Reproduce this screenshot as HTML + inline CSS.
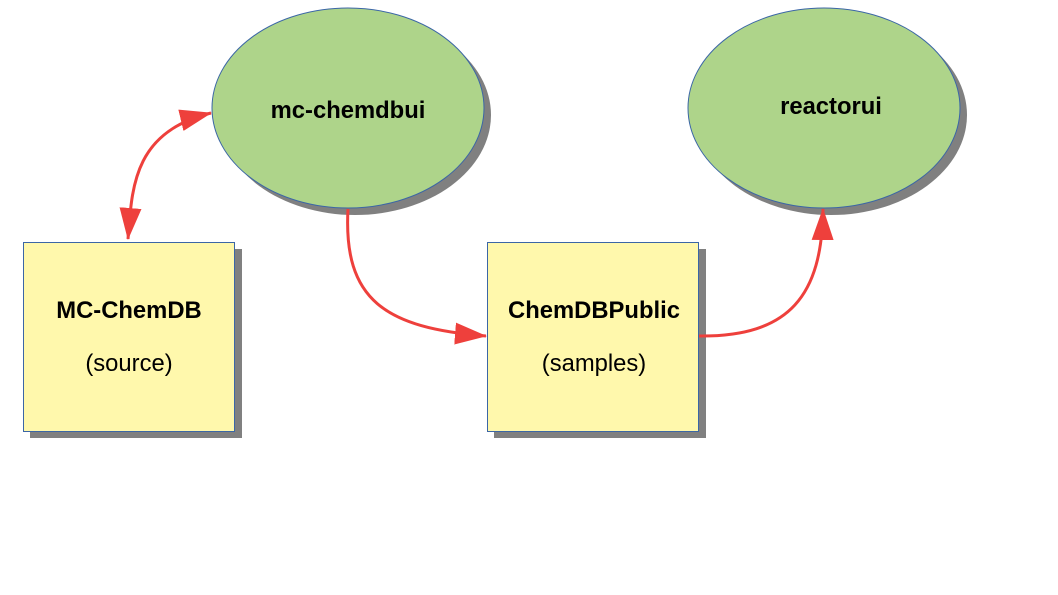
<!DOCTYPE html>
<html><head><meta charset="utf-8"><style>
html,body{margin:0;padding:0;background:#fff;}
svg{display:block;}
text{font-family:"Liberation Sans",sans-serif;fill:#000;}
</style></head><body>
<svg width="1058" height="595" viewBox="0 0 1058 595" xmlns="http://www.w3.org/2000/svg">
<defs>
<marker id="ah" markerWidth="32" markerHeight="22" refX="31" refY="11" orient="auto" markerUnits="userSpaceOnUse">
<path d="M0,0 L32,11 L0,22 Z" fill="#ee403c"/>
</marker>
<marker id="as" markerWidth="32" markerHeight="22" refX="1" refY="11" orient="auto" markerUnits="userSpaceOnUse">
<path d="M32,0 L0,11 L32,22 Z" fill="#ee403c"/>
</marker>
</defs>
<ellipse cx="355" cy="115" rx="136" ry="100" fill="#808080"/>
<ellipse cx="831" cy="115" rx="136" ry="100" fill="#808080"/>
<rect x="30" y="249" width="212" height="189" fill="#808080"/>
<rect x="494" y="249" width="212" height="189" fill="#808080"/>
<ellipse cx="348" cy="108" rx="136" ry="100" fill="#aed48a" stroke="#3b66a6" stroke-width="1"/>
<ellipse cx="824" cy="108" rx="136" ry="100" fill="#aed48a" stroke="#3b66a6" stroke-width="1"/>
<rect x="23.5" y="242.5" width="211" height="189" fill="#fff8ac" stroke="#3b66a6" stroke-width="1"/>
<rect x="487.5" y="242.5" width="211" height="189" fill="#fff8ac" stroke="#3b66a6" stroke-width="1"/>
<text x="348" y="118" font-size="23.8" font-weight="bold" text-anchor="middle">mc-chemdbui</text>
<text x="831" y="114" font-size="23.8" font-weight="bold" text-anchor="middle">reactorui</text>
<text x="129" y="318" font-size="23.8" font-weight="bold" text-anchor="middle">MC-ChemDB</text>
<text x="129" y="371" font-size="23.8" text-anchor="middle">(source)</text>
<text x="594" y="318" font-size="23.8" font-weight="bold" text-anchor="middle">ChemDBPublic</text>
<text x="594" y="371" font-size="23.8" text-anchor="middle">(samples)</text>
<path d="M128,239 C132,190 132,132 211,113" fill="none" stroke="#ee403c" stroke-width="3" marker-start="url(#as)" marker-end="url(#ah)"/>
<path d="M348,209 C343,300 385,328 486,336" fill="none" stroke="#ee403c" stroke-width="3" marker-end="url(#ah)"/>
<path d="M699,336 C790,337 822,295 823,209" fill="none" stroke="#ee403c" stroke-width="3" marker-end="url(#ah)"/>
</svg>
</body></html>
